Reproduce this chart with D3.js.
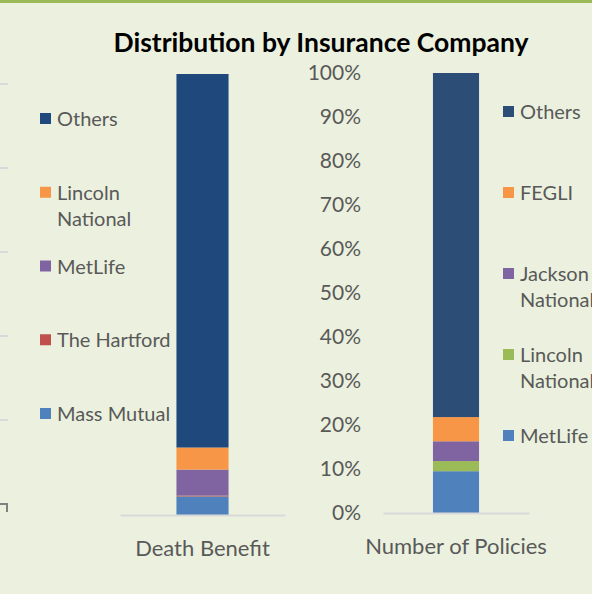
<!DOCTYPE html>
<html>
<head>
<meta charset="utf-8">
<script src="https://cdn.jsdelivr.net/npm/d3@7"></script>
<style>
  html, body { margin: 0; padding: 0; background: #ebf1de; }
  svg { display: block; font-family: Lato, "Noto Sans", sans-serif; }
</style>
</head>
<body>
<div id="chart"></div>
<script>
// left panel: share of death benefit
const leftCategory = ["Death Benefit"];
const leftCompanies = ["Mass Mutual", "The Hartford", "MetLife", "Lincoln National", "Others"];
const leftShares = [0.042, 0.002, 0.059, 0.050, 0.847];
const leftColors = ["#4f81bd", "#c0504d", "#8064a2", "#f79646", "#1f497d"];

// right panel: share of number of policies
const rightCategory = ["Number of Policies"];
const rightCompanies = ["MetLife", "Lincoln National", "Jackson National", "FEGLI", "Others"];
const rightShares = [0.095, 0.023, 0.045, 0.055, 0.782];
const rightColors = ["#4f81bd", "#9bbb59", "#8064a2", "#f79646", "#2c4d75"];

const pctTicks = [0, 0.1, 0.2, 0.3, 0.4, 0.5, 0.6, 0.7, 0.8, 0.9, 1];
const title = "Distribution by Insurance Company";

const width = 592, height = 594;
const textColor = "#595959";

const svg = d3.select("#chart").append("svg")
    .attr("width", width)
    .attr("height", height);

svg.append("rect")
    .attr("width", width)
    .attr("height", height)
    .attr("fill", "#ebf1de");

svg.append("rect")
    .attr("width", width)
    .attr("height", 3)
    .attr("fill", "#9bbb59");

// the axis of a neighbouring chart, cut off at the left edge
const hiddenY = d3.scaleLinear().domain([0, 6]).range([504, 0]);
svg.append("g")
    .selectAll("line")
    .data([1, 2, 3, 4, 5])
    .join("line")
    .attr("x1", 0).attr("x2", 8)
    .attr("y1", d => hiddenY(d)).attr("y2", d => hiddenY(d))
    .attr("stroke", "#d9d9d9")
    .attr("stroke-width", 2);
svg.append("path")
    .attr("d", `M0,${hiddenY(0)}H7V${hiddenY(0) + 8}`)
    .attr("fill", "none")
    .attr("stroke", "#808080")
    .attr("stroke-width", 2);

function drawPanel(opts) {
    const {category, companies, shares, colors, xRange, yRange, legendX, legendY} = opts;

    const x = d3.scaleBand().domain(category).range(xRange).padding(0.52);
    const y = d3.scaleLinear().domain([0, 1]).range(yRange);

    const row = {cat: category[0]};
    companies.forEach((c, i) => { row[c] = shares[i]; });
    const series = d3.stack().keys(companies)([row]);
    const color = d3.scaleOrdinal().domain(companies).range(colors);

    const g = svg.append("g");

    g.selectAll("rect")
        .data(series)
        .join("rect")
        .attr("x", x(category[0]))
        .attr("width", x.bandwidth())
        .attr("y", d => y(d[0][1]))
        .attr("height", d => y(d[0][0]) - y(d[0][1]))
        .attr("fill", d => color(d.key));

    const xAxis = g.append("g")
        .attr("transform", `translate(0,${yRange[0]})`)
        .call(d3.axisBottom(x).tickSize(0).tickPadding(25));
    xAxis.select(".domain").attr("stroke", "#d9d9d9").attr("stroke-width", 2);
    xAxis.selectAll("text")
        .attr("fill", textColor)
        .style("font-size", "22px")
        .style("font-family", "Lato, 'Noto Sans', sans-serif");

    // legend, top item = top of the stack
    const ly = d3.scalePoint().domain(companies.slice().reverse()).range(legendY);
    const items = g.append("g").selectAll("g")
        .data(companies)
        .join("g")
        .attr("transform", d => `translate(${legendX},${ly(d)})`);
    items.append("rect")
        .attr("x", 0).attr("y", -6)
        .attr("width", 11).attr("height", 11)
        .attr("fill", d => color(d));
    items.append("text")
        .attr("x", 17)
        .attr("fill", textColor)
        .style("font-size", "20px")
        .each(function(d) {
            const t = d3.select(this);
            const lines = d.length > 13 ? d.split(" ") : [d];
            lines.forEach((ln, i) => {
                t.append("tspan")
                    .attr("x", 17)
                    .attr("y", i * 26)
                    .attr("dy", "0.35em")
                    .text(ln);
            });
        });

    return y;
}

drawPanel({
    category: leftCategory,
    companies: leftCompanies,
    shares: leftShares,
    colors: leftColors,
    xRange: [120, 285],
    yRange: [515, 74],
    legendX: 40,
    legendY: [119, 414]
});

const yRight = drawPanel({
    category: rightCategory,
    companies: rightCompanies,
    shares: rightShares,
    colors: rightColors,
    xRange: [383, 529],
    yRange: [513, 73],
    legendX: 503,
    legendY: [112, 436]
});

const yAxis = svg.append("g")
    .attr("transform", "translate(369,0)")
    .call(d3.axisLeft(yRight).tickValues(pctTicks).tickFormat(d3.format(".0%")).tickSize(0).tickPadding(8));
yAxis.select(".domain").remove();
yAxis.selectAll("text")
    .attr("fill", textColor)
    .style("font-size", "21px")
    .style("font-family", "Lato, 'Noto Sans', sans-serif");

svg.append("text")
    .attr("x", 321)
    .attr("y", 52)
    .attr("text-anchor", "middle")
    .attr("fill", "#000")
    .style("font-size", "26.5px")
    .style("font-weight", "bold")
    .text(title);
</script>
</body>
</html>
